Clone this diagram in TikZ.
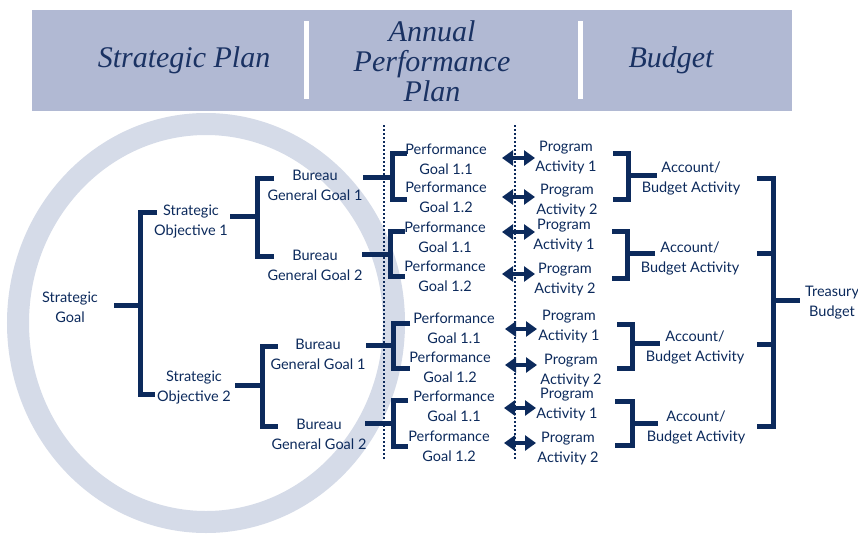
\documentclass[tikz,border=0pt]{standalone}
\usepackage{fontspec}
\setmainfont{Lato}
\newfontfamily\hdfont{Liberation Serif}
\usetikzlibrary{arrows.meta}
\definecolor{navy}{HTML}{0C2A5C}
\definecolor{band}{HTML}{B1B9D3}
\definecolor{ring}{HTML}{D5DBE8}
\definecolor{hdtext}{HTML}{1A3263}
\tikzset{
  tx/.style={align=center, text=navy, font=\fontsize{14.5}{20}\selectfont, inner sep=0pt},
  hd/.style={text=hdtext, font=\hdfont\itshape\fontsize{30}{30}\selectfont, inner sep=0pt, align=center},
  ln/.style={draw=navy, line width=5pt, line join=miter},
  dots/.style={draw=navy, line width=2pt, dash pattern=on 2pt off 2pt},
  dbl/.style={draw=navy, line width=4pt, {Triangle[length=11pt,width=15pt]}-{Triangle[length=11pt,width=15pt]}},
}
\begin{document}
\begin{tikzpicture}[x=1pt,y=-1pt]
\useasboundingbox (0,0) rectangle (858,535);
\clip (0,0) rectangle (858,535);
\fill[white] (0,0) rectangle (858,535);
% ring
\draw[ring, line width=22pt] (206,323) ellipse [x radius=188, y radius=199];
% header
\fill[band] (32,10) rectangle (792,111);
\fill[white] (304,21) rectangle (309,99);
\fill[white] (578,21) rectangle (583,99);
\node[hd, anchor=base] (hsp) at (184,67) {Strategic Plan};
\node[hd] (hap) at (432,61) {Annual\\Performance\\Plan};
\node[hd, anchor=base] (hbu) at (671,67) {Budget};
% dotted separators
\coordinate (d1t) at (384,125); \coordinate (d1b) at (384,460);
\coordinate (d2t) at (515,125); \coordinate (d2b) at (515,460);
\draw[dots] (d1t) -- (d1b);
\draw[dots] (d2t) -- (d2b);
% strategic plan nodes
\node[tx] (sg) at (70,307) {Strategic\\Goal};
\node[tx] (so1) at (191,222) {Strategic\\Objective 1};
\node[tx] (so2) at (194,388) {Strategic\\Objective 2};
\node[tx] (bg11) at (315,185) {Bureau\\General Goal 1};
\node[tx] (bg12) at (315,265) {Bureau\\General Goal 2};
\node[tx] (bg21) at (318,354) {Bureau\\General Goal 1};
\node[tx] (bg22) at (319,434) {Bureau\\General Goal 2};
% performance goals
\node[tx] (pg1a) at (446,159) {Performance\\Goal 1.1};
\node[tx] (pg1b) at (446,197.5) {Performance\\Goal 1.2};
\node[tx] (pg2a) at (445,237) {Performance\\Goal 1.1};
\node[tx] (pg2b) at (445,276.5) {Performance\\Goal 1.2};
\node[tx] (pg3a) at (454,328) {Performance\\Goal 1.1};
\node[tx] (pg3b) at (450,367) {Performance\\Goal 1.2};
\node[tx] (pg4a) at (454,406) {Performance\\Goal 1.1};
\node[tx] (pg4b) at (449,446.5) {Performance\\Goal 1.2};
% program activities
\node[tx] (pa1a) at (566,158) {Program\\Activity 1};
\node[tx] (pa1b) at (567,200.5) {Program\\Activity 2};
\node[tx] (pa2a) at (564,236) {Program\\Activity 1};
\node[tx] (pa2b) at (565,279.5) {Program\\Activity 2};
\node[tx] (pa3a) at (569,327) {Program\\Activity 1};
\node[tx] (pa3b) at (571,370.5) {Program\\Activity 2};
\node[tx] (pa4a) at (567,405) {Program\\Activity 1};
\node[tx] (pa4b) at (568,448.5) {Program\\Activity 2};
% account / budget activities
\node[tx] (ab1) at (691,178) {Account/\\Budget Activity};
\node[tx] (ab2) at (690,258) {Account/\\Budget Activity};
\node[tx] (ab3) at (695,347.5) {Account/\\Budget Activity};
\node[tx] (ab4) at (696,427) {Account/\\Budget Activity};
\node[tx] (tb) at (832,302.5) {Treasury\\Budget};
% ---- bracket joints (named coordinates) ----
% strategic goal -> objectives
\coordinate (sg-o) at (114,305); \coordinate (sg-j) at (140,305);
\coordinate (sg-t) at (140,212); \coordinate (sg-b) at (140,394);
\coordinate (so1-i) at (157,212); \coordinate (so2-i) at (155,394);
\draw[ln] (sg-o) -- (sg-j);
\draw[ln] (so1-i) -- (sg-t) -- (sg-b) -- (so2-i);
% objective 1 -> bureau goals
\coordinate (so1-o) at (230,216); \coordinate (so1-j) at (257,216);
\coordinate (so1-t) at (257,178); \coordinate (so1-b) at (257,256);
\coordinate (bg11-i) at (274,178); \coordinate (bg12-i) at (274,256);
\draw[ln] (so1-o) -- (so1-j);
\draw[ln] (bg11-i) -- (so1-t) -- (so1-b) -- (bg12-i);
% objective 2 -> bureau goals
\coordinate (so2-o) at (235,385); \coordinate (so2-j) at (262,385);
\coordinate (so2-t) at (262,346); \coordinate (so2-b) at (262,426);
\coordinate (bg21-i) at (278,346); \coordinate (bg22-i) at (278,426);
\draw[ln] (so2-o) -- (so2-j);
\draw[ln] (bg21-i) -- (so2-t) -- (so2-b) -- (bg22-i);
% bureau goals -> performance goals
\coordinate (bg11-o) at (363,177); \coordinate (bg11-j) at (392,177);
\coordinate (bg11-t) at (392,153); \coordinate (bg11-b) at (392,199);
\coordinate (pg1a-i) at (407,153); \coordinate (pg1b-i) at (407,199);
\draw[ln] (bg11-o) -- (bg11-j);
\draw[ln] (pg1a-i) -- (bg11-t) -- (bg11-b) -- (pg1b-i);
\coordinate (bg12-o) at (362,254); \coordinate (bg12-j) at (390,254);
\coordinate (bg12-t) at (390,231); \coordinate (bg12-b) at (390,276);
\coordinate (pg2a-i) at (405,231); \coordinate (pg2b-i) at (405,276);
\draw[ln] (bg12-o) -- (bg12-j);
\draw[ln] (pg2a-i) -- (bg12-t) -- (bg12-b) -- (pg2b-i);
\coordinate (bg21-o) at (366,345); \coordinate (bg21-j) at (393,345);
\coordinate (bg21-t) at (393,323); \coordinate (bg21-b) at (393,368);
\coordinate (pg3a-i) at (410,323); \coordinate (pg3b-i) at (410,368);
\draw[ln] (bg21-o) -- (bg21-j);
\draw[ln] (pg3a-i) -- (bg21-t) -- (bg21-b) -- (pg3b-i);
\coordinate (bg22-o) at (365,423); \coordinate (bg22-j) at (393,423);
\coordinate (bg22-t) at (393,400); \coordinate (bg22-b) at (393,446);
\coordinate (pg4a-i) at (408,400); \coordinate (pg4b-i) at (408,446);
\draw[ln] (bg22-o) -- (bg22-j);
\draw[ln] (pg4a-i) -- (bg22-t) -- (bg22-b) -- (pg4b-i);
% double arrows (performance goal <-> program activity)
\coordinate (a1s) at (502,158); \coordinate (a1e) at (535,158);
\coordinate (a2s) at (502,197); \coordinate (a2e) at (535,197);
\coordinate (a3s) at (502,232); \coordinate (a3e) at (535,232);
\coordinate (a4s) at (502,274); \coordinate (a4e) at (535,274);
\coordinate (a5s) at (505,329); \coordinate (a5e) at (537,329);
\coordinate (a6s) at (505,365); \coordinate (a6e) at (537,365);
\coordinate (a7s) at (504,408); \coordinate (a7e) at (536,408);
\coordinate (a8s) at (504,443); \coordinate (a8e) at (536,443);
\foreach \i in {1,...,8} { \draw[dbl] (a\i s) -- (a\i e); }
% program activities -> accounts
\coordinate (pa1a-o) at (613,153); \coordinate (pa1b-o) at (613,199);
\coordinate (ab1-t) at (628,153); \coordinate (ab1-b) at (628,199);
\coordinate (ab1-j) at (628,175); \coordinate (ab1-i) at (657,175);
\draw[ln] (pa1a-o) -- (ab1-t) -- (ab1-b) -- (pa1b-o);
\draw[ln] (ab1-j) -- (ab1-i);
\coordinate (pa2a-o) at (612,231); \coordinate (pa2b-o) at (612,278);
\coordinate (ab2-t) at (627,231); \coordinate (ab2-b) at (627,278);
\coordinate (ab2-j) at (627,253); \coordinate (ab2-i) at (655,253);
\draw[ln] (pa2a-o) -- (ab2-t) -- (ab2-b) -- (pa2b-o);
\draw[ln] (ab2-j) -- (ab2-i);
\coordinate (pa3a-o) at (617,324); \coordinate (pa3b-o) at (617,368);
\coordinate (ab3-t) at (632,324); \coordinate (ab3-b) at (632,368);
\coordinate (ab3-j) at (632,343); \coordinate (ab3-i) at (660,343);
\draw[ln] (pa3a-o) -- (ab3-t) -- (ab3-b) -- (pa3b-o);
\draw[ln] (ab3-j) -- (ab3-i);
\coordinate (pa4a-o) at (615,401); \coordinate (pa4b-o) at (615,445);
\coordinate (ab4-t) at (632,401); \coordinate (ab4-b) at (632,445);
\coordinate (ab4-j) at (632,423); \coordinate (ab4-i) at (658,423);
\draw[ln] (pa4a-o) -- (ab4-t) -- (ab4-b) -- (pa4b-o);
\draw[ln] (ab4-j) -- (ab4-i);
% accounts -> treasury budget
\coordinate (ab1-o) at (757,178); \coordinate (ab2-o) at (757,253);
\coordinate (ab3-o) at (757,344); \coordinate (ab4-o) at (757,426);
\coordinate (tb-t) at (773,178); \coordinate (tb-b) at (773,426);
\coordinate (tb-2) at (773,253); \coordinate (tb-3) at (773,344);
\coordinate (tb-j) at (773,300); \coordinate (tb-i) at (800,300);
\draw[ln] (ab1-o) -- (tb-t) -- (tb-b) -- (ab4-o);
\draw[ln] (ab2-o) -- (tb-2);
\draw[ln] (ab3-o) -- (tb-3);
\draw[ln] (tb-j) -- (tb-i);
\end{tikzpicture}
\end{document}
